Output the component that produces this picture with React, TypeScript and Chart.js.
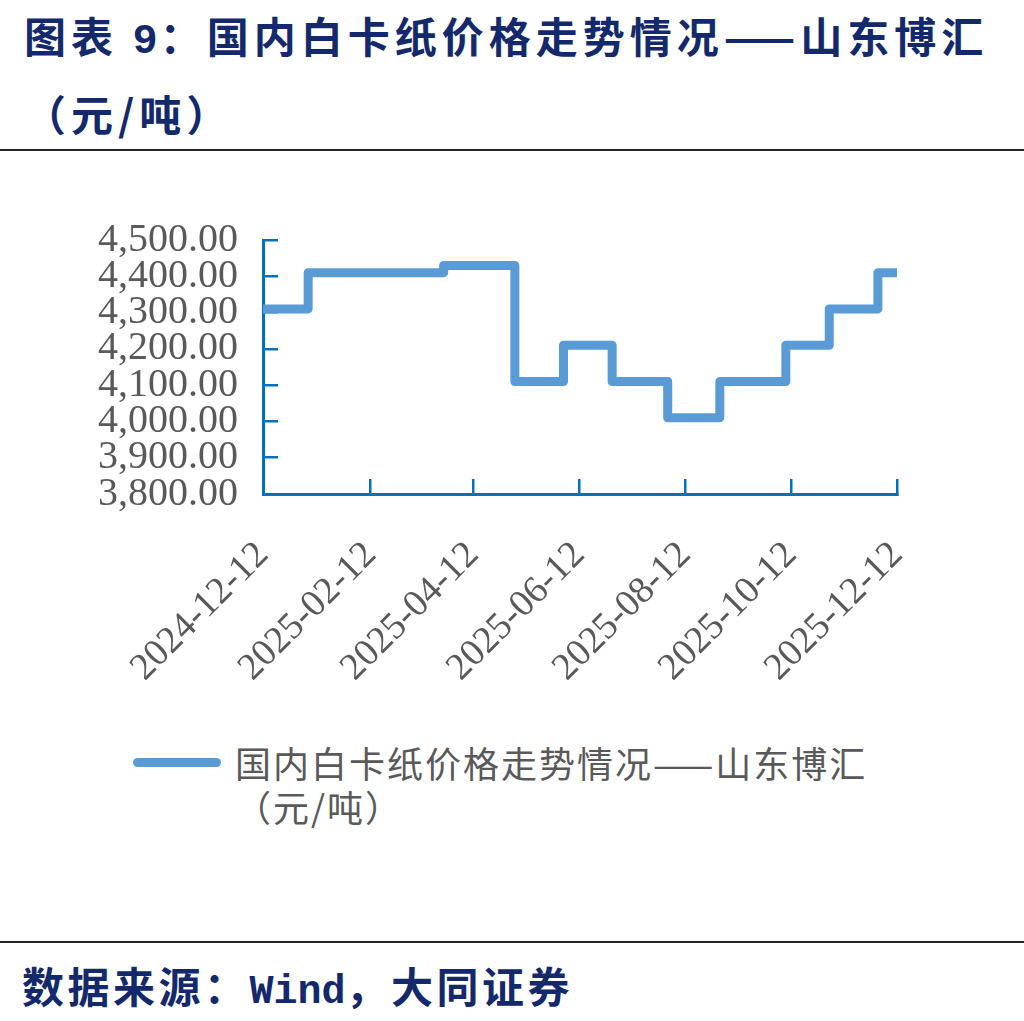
import React, { useEffect, useRef } from "react";
import { Chart, registerables } from "chart.js";

Chart.register(...registerables);

const titlePrefix = "图表 ";
const titleNumber = "9";
const titleRest = "：国内白卡纸价格走势情况——山东博汇";
const titleLine2 = "（元/吨）";
const legendLine1 = "国内白卡纸价格走势情况——山东博汇";
const legendLine2 = "（元/吨）";
const sourcePrefix = "数据来源：";
const sourceWind = "Wind";
const sourceRest = "，大同证券";

const startDate = "2024-12-12";
const tickDates = ["2024-12-12", "2025-02-12", "2025-04-12", "2025-06-12", "2025-08-12", "2025-10-12", "2025-12-12"];
// price change dates and the price from that date on
const changeDates = ["2024-12-12", "2025-01-07", "2025-03-26", "2025-05-06", "2025-06-03", "2025-07-01", "2025-08-02", "2025-09-01", "2025-10-09", "2025-11-03", "2025-12-01", "2025-12-12"];
const prices = [4310, 4410, 4430, 4110, 4210, 4110, 4010, 4110, 4210, 4310, 4410, 4410];

const yMin = 3800;
const yMax = 4500;
const yStep = 100;

const DAY = 86400000;
const dayIndex = (d: string) => Math.round((Date.parse(d + "T00:00:00Z") - Date.parse(startDate + "T00:00:00Z")) / DAY);
const dayToLabel = (n: number) => new Date(Date.parse(startDate + "T00:00:00Z") + n * DAY).toISOString().slice(0, 10);

const LINE_COLOR = "#5B9BD5";
const AXIS_COLOR = "#0070C0";
const TEXT_GRAY = "#595959";
const NAVY = "#14296B";

export default function App() {
  const canvasRef = useRef<HTMLCanvasElement | null>(null);

  useEffect(() => {
    document.body.style.margin = "0";
    const canvas = canvasRef.current;
    if (!canvas) return;
    const chart = new Chart(canvas, {
      type: "line",
      data: {
        datasets: [
          {
            label: legendLine1 + legendLine2,
            data: changeDates.map((d, i) => ({ x: dayIndex(d), y: prices[i] })),
            borderColor: LINE_COLOR,
            backgroundColor: LINE_COLOR,
            borderWidth: 9,
            stepped: true,
            pointRadius: 0,
            borderJoinStyle: "round",
            borderCapStyle: "butt",
          },
        ],
      },
      options: {
        animation: false,
        responsive: false,
        maintainAspectRatio: false,
        layout: { padding: { top: 80, right: 127, left: 0, bottom: 0 } },
        plugins: { legend: { display: false }, tooltip: { enabled: false }, title: { display: false } },
        scales: {
          x: {
            type: "linear",
            min: dayIndex(tickDates[0]),
            max: dayIndex(tickDates[tickDates.length - 1]),
            afterBuildTicks: (scale: any) => {
              scale.ticks = tickDates.map((d) => ({ value: dayIndex(d) }));
            },
            afterFit: (scale: any) => {
              scale.height = 226;
            },
            grid: {
              display: true,
              drawOnChartArea: false,
              drawTicks: true,
              tickLength: -15,
              color: AXIS_COLOR,
              lineWidth: 2.5,
            },
            border: { display: true, color: AXIS_COLOR, width: 3 },
            ticks: {
              autoSkip: false,
              minRotation: 45,
              maxRotation: 45,
              padding: 54,
              color: TEXT_GRAY,
              font: { family: "'Liberation Serif', serif", size: 38 },
              callback: (v: any) => dayToLabel(Number(v)),
            },
          },
          y: {
            min: yMin,
            max: yMax,
            afterFit: (scale: any) => {
              scale.width = 263;
            },
            grid: {
              display: true,
              drawOnChartArea: false,
              drawTicks: true,
              tickLength: -15,
              color: AXIS_COLOR,
              lineWidth: 2.5,
            },
            border: { display: true, color: AXIS_COLOR, width: 3 },
            ticks: {
              autoSkip: false,
              stepSize: yStep,
              padding: 40,
              color: TEXT_GRAY,
              font: { family: "'Liberation Serif', serif", size: 40 },
              callback: (v: any) =>
                Number(v).toLocaleString("en-US", { minimumFractionDigits: 2, maximumFractionDigits: 2 }),
            },
          },
        },
      },
    });
    return () => chart.destroy();
  }, []);

  const cjk = "'Noto Sans CJK SC', sans-serif";
  const mono = "'Liberation Mono', monospace";

  const headStyle: React.CSSProperties = {
    position: "absolute",
    left: 24,
    fontFamily: cjk,
    fontWeight: 700,
    fontSize: 42,
    lineHeight: "42px",
    letterSpacing: 5,
    color: NAVY,
    whiteSpace: "pre",
  };

  return (
    <div style={{ position: "relative", width: 1024, height: 1021, background: "#fff", overflow: "hidden" }}>
      <div style={{ ...headStyle, top: 14 }}>
        {titlePrefix}
        <span style={{ fontFamily: mono, letterSpacing: 2 }}>{titleNumber}</span>
        {titleRest}
      </div>
      <div style={{ ...headStyle, top: 92 }}>{titleLine2}</div>
      <div style={{ position: "absolute", left: 0, top: 149, width: 1024, height: 2, background: "#222" }} />
      <canvas
        ref={canvasRef}
        width={1024}
        height={560}
        style={{ position: "absolute", left: 0, top: 160, width: 1024, height: 560 }}
      />
      <div
        style={{
          position: "absolute",
          left: 133,
          top: 758,
          width: 88,
          height: 9,
          borderRadius: 5,
          background: LINE_COLOR,
        }}
      />
      <div
        style={{
          position: "absolute",
          left: 235,
          top: 740,
          fontFamily: cjk,
          fontSize: 36,
          letterSpacing: 2,
          lineHeight: "44px",
          color: TEXT_GRAY,
          whiteSpace: "nowrap",
        }}
      >
        {legendLine1}
        <br />
        {legendLine2}
      </div>
      <div style={{ position: "absolute", left: 0, top: 941, width: 1024, height: 2, background: "#222" }} />
      <div style={{ ...headStyle, left: 22, top: 964, letterSpacing: 3.5 }}>
        {sourcePrefix}
        <span style={{ fontFamily: mono, fontSize: 40, letterSpacing: 0 }}>{sourceWind}</span>
        {sourceRest}
      </div>
    </div>
  );
}
